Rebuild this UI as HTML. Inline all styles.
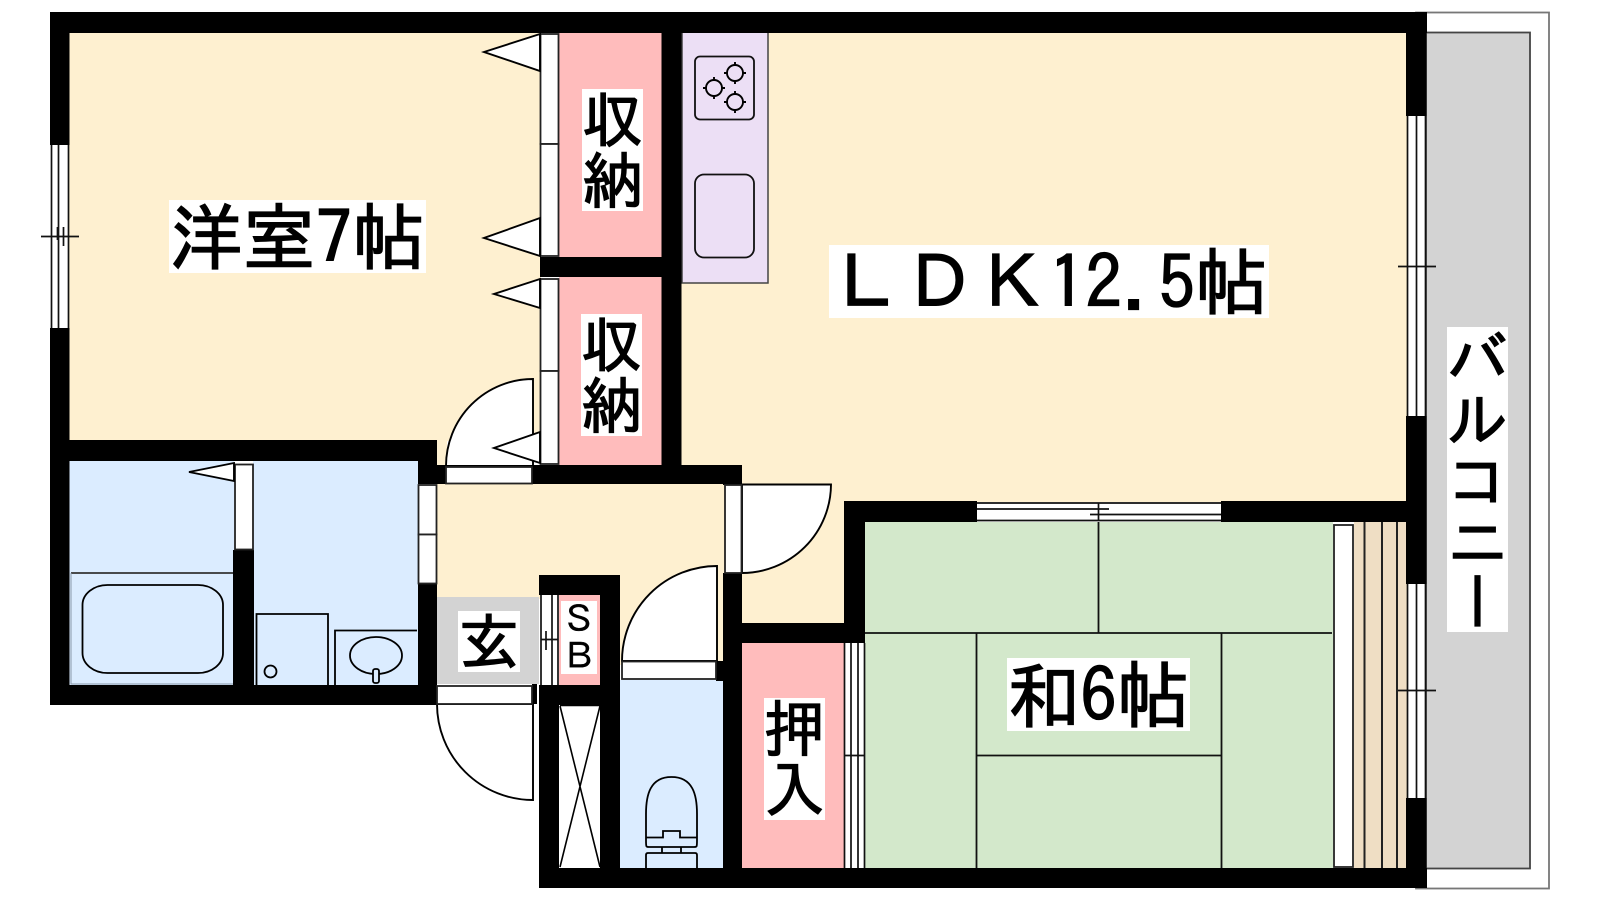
<!DOCTYPE html>
<html lang="ja"><head><meta charset="utf-8"><title>間取り図</title>
<style>
html,body{margin:0;padding:0;background:#fff;width:1600px;height:900px;overflow:hidden}
#c{position:relative;width:1600px;height:900px}
svg{position:absolute;left:0;top:0}
.t{position:absolute;background:#fff;color:#000;font-family:"IPAGothic","Liberation Sans","Noto Sans CJK JP",sans-serif;white-space:pre;text-align:center;font-weight:normal;-webkit-text-stroke:1.3px #000}
.v{writing-mode:vertical-rl;text-orientation:upright}
</style></head><body><div id="c">
<svg width="1600" height="900" viewBox="0 0 1600 900" xmlns="http://www.w3.org/2000/svg">
<!-- balcony -->
<rect x="1416" y="12.500" width="133" height="876" fill="#fff" stroke="#777" stroke-width="1.800"/>
<rect x="1426" y="32.500" width="104" height="836" fill="#d3d3d3" stroke="#444" stroke-width="1.800"/>
<!-- floors -->
<rect x="69" y="33" width="472" height="408" fill="#fef0d0"/>
<rect x="681" y="33" width="726" height="470" fill="#fef0d0"/>
<rect x="742" y="480" width="104" height="145" fill="#fef0d0"/>
<rect x="437" y="484" width="288" height="115" fill="#fef0d0"/>
<rect x="620" y="570" width="104" height="95" fill="#fef0d0"/>
<rect x="437" y="441" width="10" height="26" fill="#fef0d0"/>
<rect x="437" y="597" width="102" height="87" fill="#d3d3d3"/>
<rect x="559" y="33" width="103" height="225" fill="#ffbcbc"/>
<rect x="559" y="276" width="103" height="190" fill="#ffbcbc"/>
<rect x="559" y="595" width="42" height="90" fill="#ffbcbc"/>
<rect x="742" y="642" width="103" height="227" fill="#ffbcbc"/>
<rect x="69" y="460" width="165" height="226" fill="#dbecff"/>
<rect x="253" y="460" width="165" height="226" fill="#dbecff"/>
<rect x="620" y="680" width="104" height="189" fill="#dbecff"/>
<rect x="559" y="704" width="42" height="165" fill="#fff"/>
<rect x="864" y="521" width="469" height="348" fill="#d3e8cb"/>
<rect x="1354" y="521" width="53" height="348" fill="#efdec4"/>
<!-- kitchen -->
<rect x="682" y="32" width="86" height="251" fill="#ecdff5" stroke="#444" stroke-width="1.500"/>
<rect x="695" y="56.500" width="59" height="63" rx="5" fill="none" stroke="#111" stroke-width="1.800"/>
<rect x="695" y="174.500" width="59" height="83" rx="9" fill="none" stroke="#111" stroke-width="1.800"/>
<g fill="none" stroke="#000" stroke-width="1.900">
<circle cx="735" cy="73" r="8"/>
<circle cx="714" cy="88" r="8"/><circle cx="735" cy="102" r="8"/>
<path d="M735 62v3M735 81v3M724 73h3M743 73h3M714 77v3M714 96v3M703 88h3M722 88h3M735 91v3M735 110v3M724 102h3M743 102h3"/>
</g>
<!-- tatami lines -->
<g stroke="#111" stroke-width="1.800" fill="none">
<path d="M1098.500 522V633M865 633H1332M976.500 633V868M1221.500 633V868M976.500 755.500H1221.500"/>
</g>
<g stroke="#222" stroke-width="2"><path d="M1364.500 522V868M1382 522V868M1397 522V868"/></g>
<!-- doors swing -->
<g fill="#fff" stroke="#000" stroke-width="1.900">
<path d="M533 379A87 87 0 0 0 446 466H533Z"/>
<path d="M717 566A95 95 0 0 0 622 661H717Z"/>
<path d="M742 484.500H831A89 89 0 0 1 742 573Z"/>
<path d="M437 704A96 96 0 0 0 533 800V704Z"/>
</g>
<!-- walls -->
<g fill="#000">
<rect x="50" y="12" width="1377" height="21"/>
<rect x="50" y="12" width="19.500" height="133"/>
<rect x="50" y="328" width="19.500" height="377"/>
<rect x="50" y="440" width="387" height="21"/>
<rect x="50" y="685" width="387" height="20"/>
<rect x="418" y="440" width="19" height="44"/>
<rect x="418" y="465" width="28" height="19"/>
<rect x="418" y="584" width="19" height="121"/>
<rect x="233" y="550" width="21" height="155"/>
<rect x="532" y="465" width="210" height="19"/>
<rect x="661.500" y="12" width="20" height="472"/>
<rect x="540" y="257" width="141" height="20"/>
<rect x="723" y="465" width="19" height="20"/>
<rect x="723" y="573" width="19" height="315"/>
<rect x="716" y="661" width="10" height="20"/>
<rect x="539" y="575" width="81" height="20"/>
<rect x="600" y="575" width="20" height="313"/>
<rect x="539" y="685" width="61" height="20"/>
<rect x="539" y="685" width="20" height="203"/>
<rect x="532" y="684" width="5" height="20"/>
<rect x="539" y="868" width="888" height="20"/>
<rect x="1406" y="12" width="20.500" height="104"/>
<rect x="1406" y="416" width="20.500" height="168"/>
<rect x="1406" y="798" width="20.500" height="90"/>
<rect x="844" y="501" width="133" height="21"/>
<rect x="1221" y="501" width="186" height="21"/>
<rect x="844" y="501" width="21" height="142"/>
<rect x="742" y="623" width="123" height="20"/>
</g>
<!-- sliding panels -->
<g fill="#fff" stroke="#222" stroke-width="1.800">
<rect x="540.500" y="34" width="18" height="110"/>
<rect x="540.500" y="144" width="18" height="112"/>
<rect x="540.500" y="279" width="18" height="92"/>
<rect x="540.500" y="371" width="18" height="93"/>
<rect x="235" y="464.500" width="18" height="85"/>
<rect x="418.500" y="485" width="18" height="49.500"/>
<rect x="418.500" y="534.500" width="18" height="49"/>
<rect x="725" y="485" width="16.500" height="88"/>
<rect x="446" y="467" width="86" height="16.500"/>
<rect x="622" y="661.500" width="94" height="17.500"/>
<rect x="437" y="686" width="95" height="18"/>
<rect x="1334" y="525" width="19" height="342"/>
</g>
<!-- windows -->
<g fill="#fff"><rect x="51" y="145" width="18" height="183"/><rect x="1407" y="116" width="19" height="300"/><rect x="1407" y="584" width="19" height="214"/><rect x="977" y="502" width="244" height="20"/><rect x="844" y="643" width="21" height="225"/><rect x="540" y="595" width="19" height="90"/></g>
<g fill="none" stroke="#111" stroke-width="1.700">
<path d="M51.500 145V328M58.500 145V328M68.500 145V328M41 236.500H79M57.500 227V240M63.500 227V246"/>
<path d="M1407.500 116V416M1416.500 116V416M1425.500 116V416M1398 266.500H1436"/>
<path d="M1407.500 584V798M1416.500 584V798M1425.500 584V798M1398 690.500H1436"/>
<path d="M977 503H1221M977 509H1109M1090 514.500H1221M977 520.500H1221M1098.500 503V521"/>
<path d="M844.500 643V868M851 643V868M858 643V868M864.500 643V868M844 755.500H864M851 747V756M858 756V765"/>
<path d="M541 595V685M552 595V685M558 595V685M541 639.500H558M546 631V650"/>
</g>
<!-- folding door triangles -->
<g fill="#fff" stroke="#000" stroke-width="1.900">
<path d="M540 34L484 52L540 71Z"/>
<path d="M540 218L484 238L540 256Z"/>
<path d="M540 279L494 294L540 308Z"/>
<path d="M540 432L494 448L540 463Z"/>
<path d="M234 463L189 472L234 481Z"/>
</g>
<!-- bath and wash -->
<path d="M71 573H233" stroke="#333" stroke-width="1.800"/>
<path d="M71 573V684H233" fill="none" stroke="#8a98a8" stroke-width="1"/>
<g fill="none" stroke="#000" stroke-width="1.800">
<rect x="82.500" y="585" width="140.500" height="88" rx="25" ry="20"/>
<path d="M256.500 685V614H328V685"/>
<circle cx="270.500" cy="671.500" r="6"/>
<path d="M335 685V630.500H417"/>
<ellipse cx="376" cy="655.500" rx="26" ry="18.500"/>
<rect x="373" y="669" width="6" height="14" rx="2" fill="#dbecff"/>
</g>
<!-- toilet -->
<g fill="none" stroke="#000" stroke-width="1.800">
<path d="M646 840V814C646 795 650 777 671.500 777C693 777 697 795 697 814V840C697 847 697 847 694 847H649C646 847 646 847 646 840Z"/>
<path d="M646 837.500H663V831H680V837.500H697"/>
<path d="M662 847V853M681 847V853"/>
<path d="M646 868V855Q646 853 648 853H695Q697 853 697 855V868"/>
</g>
<!-- closet X -->
<g stroke="#000" stroke-width="1.600"><path d="M560 706L600 867M600 706L560 867M560 705.500H600"/></g>
</svg>
<div class="t" style="left:169px;top:200px;width:257px;height:73px;font-size:73px;line-height:73px">洋室7帖</div>
<div class="t" style="left:829px;top:245px;width:440px;height:73px;font-size:73px;line-height:73px">ＬＤＫ12.5帖</div>
<div class="t" style="left:1007px;top:658px;width:183px;height:73px;font-size:73px;line-height:73px">和6帖</div>
<div class="t" style="left:582px;top:89px;width:61px;height:122px;font-size:61px;line-height:61px">収<br>納</div>
<div class="t" style="left:581px;top:314px;width:61px;height:122px;font-size:61px;line-height:61px">収<br>納</div>
<div class="t" style="left:764px;top:698px;width:61px;height:122px;font-size:61px;line-height:61px">押<br>入</div>
<div class="t" style="left:458px;top:611px;width:62px;height:61px;font-size:61px;line-height:61px">玄</div>
<div class="t" style="left:561px;top:601px;width:36px;height:73px;font-size:36px;line-height:36.500px;-webkit-text-stroke:0.4px #000">Ｓ<br>Ｂ</div>
<div class="t v" style="left:1447px;top:327px;width:61px;height:305px;font-size:61px;line-height:61px">バルコニー</div>
</div></body></html>
